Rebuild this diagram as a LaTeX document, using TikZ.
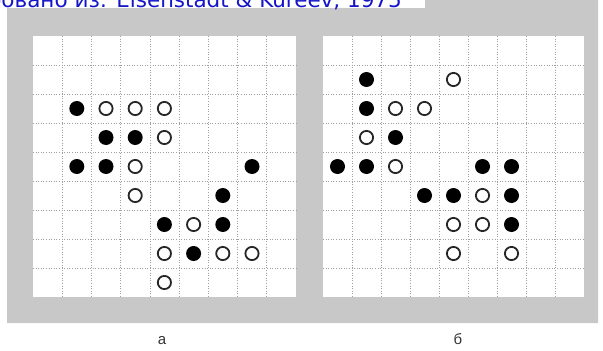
\documentclass[tikz,border=0pt]{standalone}
\usepackage{fontspec}
\setmainfont{Liberation Sans}
\newfontfamily\capfont{DejaVu Sans}
\usepackage{xcolor}
\usetikzlibrary{positioning}
\definecolor{capblue}{RGB}{20,20,200}
\definecolor{scan}{RGB}{200,200,200}

\begin{document}
\begin{tikzpicture}[x=1pt, y=-1pt,
  gridline/.style={gray!75, line width=0.6pt, dotted},
  blackdot/.style={fill=black},
  whitedot/.style={draw=black!85, line width=1.8pt, fill=white},
  boardlabel/.style={anchor=base, inner sep=0pt, text=black!80, font=\fontsize{15}{17}\selectfont}]
  \useasboundingbox (0,0) rectangle (603,351);

  % Scanned background
  \fill[scan] (7,8) -- (425,8) -- (425,0) -- (598,0) -- (598,323) -- (7,323) -- cycle;

  % Source line, cut at the top
  \node[anchor=base east, inner sep=0pt, text=capblue,
    font=\capfont\fontsize{21.5}{26}\selectfont] (src) at (402,7)
    {Модифицировано из: Eisenstadt \& Kureev, 1975};

  % Board a
  \begin{scope}[shift={(33,36)}, x=29.2pt, y=-29pt]
    \fill[white] (0,0) rectangle (9,9);
    \foreach \i in {1,...,8} {
      \draw[gridline] (\i,0) -- (\i,9);
      \draw[gridline] (0,\i) -- (9,\i);
    }
    \foreach \c/\r in {1/2, 2/3, 3/3, 1/4, 2/4, 7/4, 6/5, 4/6, 6/6, 5/7} {
      \fill[blackdot] (\c+0.5,\r+0.5) circle[radius=7.5pt];
    }
    \foreach \c/\r in {2/2, 3/2, 4/2, 4/3, 3/4, 3/5, 5/6, 4/7, 6/7, 7/7, 4/8} {
      \draw[whitedot] (\c+0.5,\r+0.5) circle[radius=6.6pt];
    }
  \end{scope}

  % Board b
  \begin{scope}[shift={(323,36)}, x=29pt, y=-29pt]
    \fill[white] (0,0) rectangle (9,9);
    \foreach \i in {1,...,8} {
      \draw[gridline] (\i,0) -- (\i,9);
      \draw[gridline] (0,\i) -- (9,\i);
    }
    \foreach \c/\r in {1/1, 1/2, 2/3, 0/4, 1/4, 5/4, 6/4, 3/5, 4/5, 6/5, 6/6} {
      \fill[blackdot] (\c+0.5,\r+0.5) circle[radius=7.5pt];
    }
    \foreach \c/\r in {4/1, 2/2, 3/2, 1/3, 2/4, 5/5, 4/6, 5/6, 4/7, 6/7} {
      \draw[whitedot] (\c+0.5,\r+0.5) circle[radius=6.6pt];
    }
  \end{scope}

  % Labels
  \node[boardlabel] (labA) at (162,344) {а};
  \node[boardlabel] (labB) at (458,344) {б};
\end{tikzpicture}
\end{document}
